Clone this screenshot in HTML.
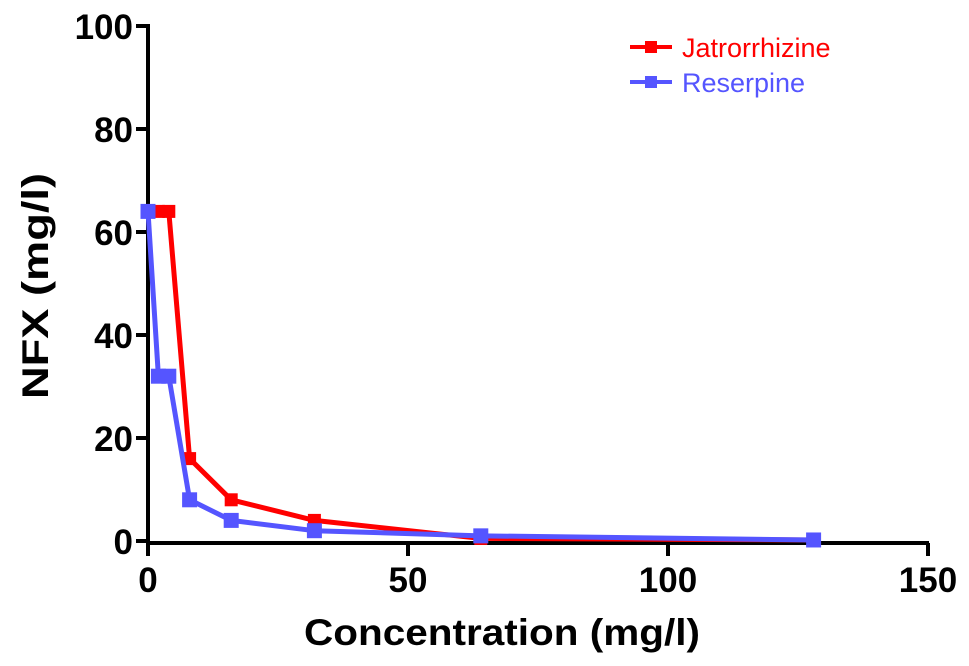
<!DOCTYPE html>
<html><head><meta charset="utf-8"><style>
body{margin:0;background:#fff;}
svg{display:block;font-family:"Liberation Sans",Arial,sans-serif;}
</style></head><body>
<svg id="chart" width="969" height="666">
<g id="axes"></g><g id="series"></g>
<text x="502" y="645" text-anchor="middle" font-size="37" font-weight="bold" textLength="396" lengthAdjust="spacingAndGlyphs">Concentration (mg/l)</text>
<text transform="translate(48,286) rotate(-90)" text-anchor="middle" font-size="37" font-weight="bold" textLength="226" lengthAdjust="spacingAndGlyphs">NFX (mg/l)</text>
<g>
<g>
<line x1="630" y1="47" x2="672" y2="47" stroke="#ff0000" stroke-width="4"/><rect x="645" y="41" width="12" height="12" fill="#ff0000"/>
<text x="682" y="57" font-size="27" fill="#ff0000">Jatrorrhizine</text></g>
<g>
<line x1="630" y1="82" x2="672" y2="82" stroke="#5555ff" stroke-width="4"/><rect x="645" y="76" width="12" height="12" fill="#5555ff"/>
<text x="682" y="92" font-size="27" fill="#5555ff">Reserpine</text></g>
</g>
</svg>
<script>
const xValues=[0,2,4,8,16,32,64,128];
const jatrorrhizine=[64,64,64,16,8,4,0.5,0.2];
const reserpine=[64,32,32,8,4,2,1,0.2];
const xTicks=[0,50,100,150];
const yTicks=[0,20,40,60,80,100];
const X=v=>148+v*(928-148)/150;
const Y=v=>541-v*(541-26)/100;
const NS="http://www.w3.org/2000/svg";
function mk(t,a,p){const e=document.createElementNS(NS,t);for(const k in a)e.setAttribute(k,a[k]);p.appendChild(e);return e;}
const ax=document.getElementById('axes');
const xl=mk('line',{x1:146,y1:543,x2:929,y2:543,stroke:'#000','stroke-width':4},ax);


const yl=mk('line',{x1:148,y1:24,x2:148,y2:545,stroke:'#000','stroke-width':4},ax);


xTicks.forEach(t=>{
 mk('line',{x1:X(t),y1:543,x2:X(t),y2:556,stroke:'#000','stroke-width':4},ax);
 const tx=mk('text',{x:X(t),y:592,'text-anchor':'middle','font-size':35,'font-weight':'bold'},ax);
 tx.textContent=t;
 
 
});
yTicks.forEach(t=>{
 mk('line',{x1:136,y1:Y(t),x2:148,y2:Y(t),stroke:'#000','stroke-width':4},ax);
 const tx=mk('text',{x:133,y:Y(t)+13,'text-anchor':'end','font-size':35,'font-weight':'bold'},ax);
 tx.textContent=t;
 
 
});
const sg=document.getElementById('series');
function draw(vals,color,name,ms){
 const g=mk('g',{},sg);
 
 
 const pl=mk('polyline',{points:vals.map((v,i)=>X(xValues[i])+','+Y(v)).join(' '),fill:'none',stroke:color,'stroke-width':5,'stroke-linejoin':'round'},g);
 
 
 vals.forEach((v,i)=>{
  const r=mk('rect',{x:X(xValues[i])-ms/2,y:Y(v)-ms/2,width:ms,height:ms,fill:color},g);
  
  
 });
}
draw(jatrorrhizine,'#ff0000','jatrorrhizine',13);
draw(reserpine,'#5555ff','reserpine',15);
</script>
</body></html>
